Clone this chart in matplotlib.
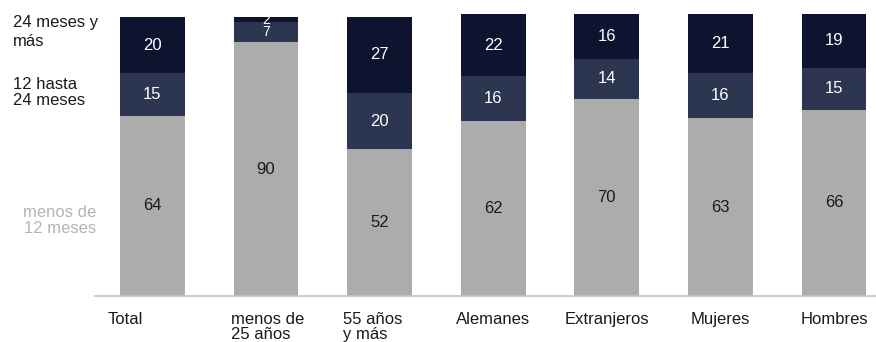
import matplotlib
matplotlib.use('Agg')
import matplotlib.pyplot as plt
import numpy as np

plt.rcParams['font.family'] = ['Liberation Sans', 'DejaVu Sans']

# Duración del desempleo por grupo (%)
grupos = ['Total', 'menos de\n25 años', '55 años\ny más', 'Alemanes',
          'Extranjeros', 'Mujeres', 'Hombres']
menos_12 = [64, 90, 52, 62, 70, 63, 66]
de_12_a_24 = [15, 7, 20, 16, 14, 16, 15]
mas_24 = [20, 2, 27, 22, 16, 21, 19]

series = [
    ('menos de\n12 meses', menos_12, '#acacac', '#1a1a1a'),
    ('12 hasta\n24 meses', de_12_a_24, '#2d3650', 'white'),
    ('24 meses y\nmás', mas_24, '#0e1430', 'white'),
]

fig = plt.figure(figsize=(8.76, 3.42), dpi=100)
ax = fig.add_axes([95 / 876, 1 - 296 / 342, 1 - 95 / 876, (296 - 14) / 342])

x = np.arange(len(grupos))
bottom = np.zeros(len(grupos))
for nombre, vals, color, tcolor in series:
    vals = np.array(vals, dtype=float)
    ax.bar(x, vals, width=0.57, bottom=bottom, color=color, edgecolor='none')
    for xi, b, v in zip(x, bottom, vals):
        fs = 10 if v < 10 else 12
        ax.text(xi, b + v / 2, f'{v:.0f}', ha='center', va='center',
                color=tcolor, fontsize=fs)
    bottom += vals

ax.set_xlim(-0.506, 6.37)
ax.set_ylim(0, 100)
ax.set_yticks([])
ax.set_xticks([])
for s in ['top', 'right', 'left']:
    ax.spines[s].set_visible(False)
ax.spines['bottom'].set_color('#c4c4c4')
ax.spines['bottom'].set_linewidth(1.2)

# Nombres de grupo bajo el eje ("Total" algo desplazado a la izquierda)
pos_etiq = x.astype(float)
pos_etiq[0] -= 0.24
pos_etiq[1] += 0.01
pos_etiq[2] -= 0.06
for xi, g in zip(pos_etiq, grupos):
    ax.text(xi, -0.055, g, transform=ax.get_xaxis_transform(), ha='center', va='top',
            fontsize=12, color='#1a1a1a', multialignment='left', linespacing=1.0)

# Etiquetas de las series a la izquierda
fig.text(13 / 876, 1 - 15 / 342, '24 meses y\nmás', ha='left', va='top',
         fontsize=12, color='#1a1a1a', linespacing=1.3)
fig.text(13 / 876, 1 - 77 / 342, '12 hasta\n24 meses', ha='left', va='top',
         fontsize=12, color='#1a1a1a', linespacing=1.1)
fig.text(96 / 876, 1 - 205 / 342, 'menos de\n12 meses', ha='right', va='top',
         fontsize=12, color='#b4b4b4', linespacing=1.1, multialignment='right')

fig.savefig('out.png', dpi=100)
